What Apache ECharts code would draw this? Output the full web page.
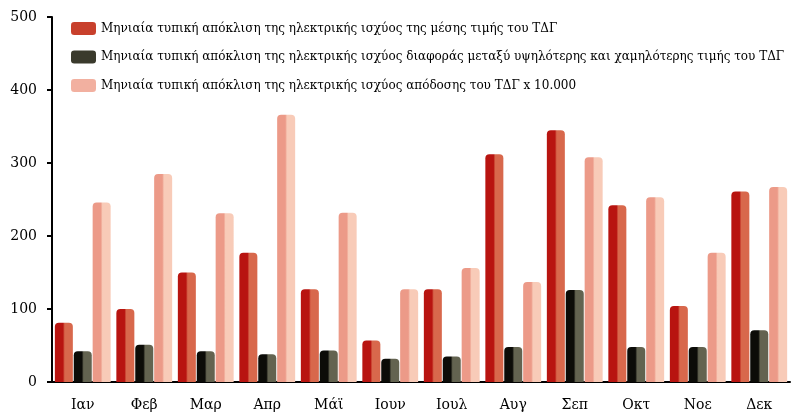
<!DOCTYPE html>
<html>
<head>
<meta charset="utf-8">
<script src="https://cdn.jsdelivr.net/npm/echarts@6/dist/echarts.min.js"></script>
<style>
  html, body { margin: 0; padding: 0; background: #ffffff; }
  #chart { width: 791px; height: 419px; }
</style>
</head>
<body>
<div id="chart"></div>
<script>
// Month labels on the category axis
const months = ['Ιαν', 'Φεβ', 'Μαρ', 'Απρ', 'Μάϊ', 'Ιουν', 'Ιουλ', 'Αυγ', 'Σεπ', 'Οκτ', 'Νοε', 'Δεκ'];

// Series names (legend entries)
const seriesNames = [
  'Μηνιαία τυπική απόκλιση της ηλεκτρικής ισχύος της μέσης τιμής του ΤΔΓ',
  'Μηνιαία τυπική απόκλιση της ηλεκτρικής ισχύος διαφοράς μεταξύ υψηλότερης και χαμηλότερης τιμής του ΤΔΓ',
  'Μηνιαία τυπική απόκλιση της ηλεκτρικής ισχύος απόδοσης του ΤΔΓ x 10.000'
];

// Monthly values per series
const maxValues   = [81, 100, 150, 177, 127, 57, 127, 312, 345, 242, 104, 261];
const rangeValues = [42, 51, 42, 38, 43, 32, 35, 48, 126, 48, 48, 71];
const yieldValues = [246, 285, 231, 366, 232, 127, 156, 137, 308, 253, 177, 267];

// Value-axis range and step
const yMin = 0;
const yMax = 500;
const yStep = 100;

// Two-tone horizontal gradient gives each bar a rounded, lit look
function cylinder(dark, light) {
  return new echarts.graphic.LinearGradient(0, 0, 1, 0, [
    { offset: 0, color: dark },
    { offset: 0.45, color: dark },
    { offset: 0.55, color: light },
    { offset: 1, color: light }
  ]);
}

const fills = [
  cylinder('#b81410', '#d8684c'),
  cylinder('#0c0c08', '#636350'),
  cylinder('#ec9a88', '#f8cbb8')
];
const legendColors = ['#c8402c', '#3a3a2c', '#f2b0a0'];

const dataSets = [maxValues, rangeValues, yieldValues];

const chart = echarts.init(document.getElementById('chart'), null, { renderer: 'canvas' });

const serif = '"DejaVu Serif", "Liberation Serif", serif';

chart.setOption({
  animation: false,
  backgroundColor: '#ffffff',
  grid: {
    left: 52, right: 1, top: 17, bottom: 37,
    containLabel: false,
    outerBoundsMode: 'none'
  },
  legend: {
    orient: 'vertical',
    left: 66,
    top: 17,
    itemWidth: 25,
    itemHeight: 13,
    itemGap: 15.5,
    icon: 'roundRect',
    textStyle: {
      fontFamily: serif,
      fontSize: 12,
      color: '#000000'
    },
    data: seriesNames.map((n, i) => ({ name: n, itemStyle: { color: legendColors[i] } }))
  },
  xAxis: {
    type: 'category',
    data: months,
    axisLine: { lineStyle: { color: '#000000', width: 2 } },
    axisTick: { show: false },
    axisLabel: {
      color: '#000000',
      fontFamily: serif,
      fontSize: 14,
      margin: 16
    },
    splitLine: { show: false }
  },
  yAxis: {
    type: 'value',
    min: yMin,
    max: yMax,
    interval: yStep,
    axisLine: { show: true, lineStyle: { color: '#000000', width: 2 } },
    axisTick: { show: true, inside: false, length: 5, lineStyle: { color: '#000000', width: 2 } },
    axisLabel: {
      color: '#000000',
      fontFamily: serif,
      fontSize: 14,
      margin: 15
    },
    splitLine: { show: false }
  },
  series: dataSets.map((vals, i) => ({
    name: seriesNames[i],
    type: 'bar',
    data: vals,
    barWidth: 18,
    barGap: '5%',
    itemStyle: {
      color: fills[i],
      borderRadius: [4, 4, 0, 0]
    }
  }))
});
</script>
</body>
</html>
